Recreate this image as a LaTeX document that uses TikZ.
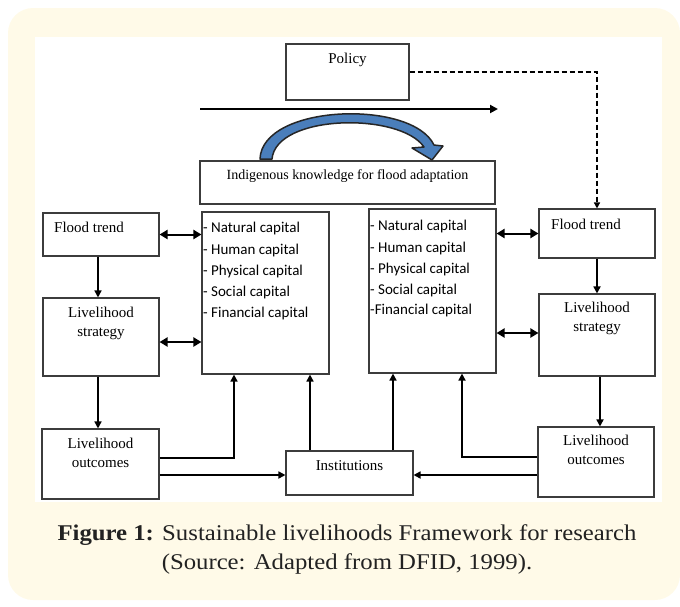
\documentclass[tikz,border=0pt]{standalone}
\usepackage{fontspec}
\setmainfont{Liberation Serif}
\newfontfamily\itemfont{Carlito}
\newfontfamily\capfont[FakeStretch=1.1]{Liberation Serif}
\usetikzlibrary{arrows.meta}

\definecolor{creamback}{RGB}{255,250,232}
\definecolor{arcblue}{RGB}{74,126,187}
\definecolor{boxline}{RGB}{60,60,60}
\definecolor{captext}{RGB}{34,34,34}

\tikzset{
  box/.style = {draw=boxline, line width=1.1pt, rectangle, inner sep=0pt},
  boxtext/.style = {font=\fontsize{15}{19}\selectfont, align=center, inner sep=0pt},
  captl/.style = {font=\itemfont\fontsize{15}{18}\selectfont, anchor=west, inner sep=0pt},
  arr/.style = {line width=1.6pt, -{Triangle[length=7pt,width=7pt]}},
  dbl/.style = {line width=2pt, {Triangle[length=8pt,width=9pt]}-{Triangle[length=8pt,width=9pt]}}
}

\begin{document}
\begin{tikzpicture}[x=1pt, y=-1pt]
\fill[creamback, rounded corners=25pt] (8,8) rectangle (680,600);
\fill[white] (35,37) rectangle (662,502);
\useasboundingbox (0,0) rectangle (680,606);

% boxes
\path (347.5,72) node[box, minimum width=123, minimum height=56] (policy) {};
\path (347.5,182.5) node[box, minimum width=295, minimum height=43] (ik) {};
\path (101,234.5) node[box, minimum width=116, minimum height=43] (lflood) {};
\path (101,337) node[box, minimum width=116, minimum height=78] (lstrat) {};
\path (100.5,464) node[box, minimum width=117, minimum height=70] (loutc) {};
\path (265.5,293) node[box, minimum width=127, minimum height=162] (capL) {};
\path (432.5,291) node[box, minimum width=127, minimum height=164] (capR) {};
\path (597,233.5) node[box, minimum width=116, minimum height=49] (rflood) {};
\path (597,335) node[box, minimum width=116, minimum height=82] (rstrat) {};
\path (596,462) node[box, minimum width=116, minimum height=70] (routc) {};
\path (349.5,473) node[box, minimum width=127, minimum height=44] (inst) {};

% box texts
\node[boxtext] (policyT) at (347.5,60) {Policy};
\node[boxtext, font=\fontsize{14}{17}\selectfont] (ikT) at (347.5,176) {Indigenous knowledge for flood adaptation};
\node[boxtext, anchor=west] (lfloodT) at (54,227) {Flood trend};
\node[boxtext, anchor=north] (lstratT) at (101,307) {Livelihood\\strategy};
\node[boxtext, anchor=north] (loutcT) at (100.5,438) {Livelihood\\outcomes};
\node[boxtext, anchor=west] (rfloodT) at (551,224) {Flood trend};
\node[boxtext, anchor=north] (rstratT) at (597,302) {Livelihood\\strategy};
\node[boxtext, anchor=north] (routcT) at (596,435) {Livelihood\\outcomes};
\node[boxtext] (instT) at (349.5,466) {Institutions};

% capitals
\node[captl] (nL) at (203,228) {- Natural capital};
\node[captl] (hL) at (203,250) {- Human capital};
\node[captl] (pL) at (203,271) {- Physical capital};
\node[captl] (sL) at (203,292) {- Social capital};
\node[captl] (fL) at (203,313) {- Financial capital};
\node[captl] (nR) at (370,226) {- Natural capital};
\node[captl] (hR) at (370,248) {- Human capital};
\node[captl] (pR) at (370,269) {- Physical capital};
\node[captl] (sR) at (370,290) {- Social capital};
\node[captl] (fR) at (370,310) {-Financial capital};

% top arrows
\coordinate (trendS) at (200,109);
\coordinate (trendE) at (498,109);
\draw[line width=2pt, -{Triangle[length=8pt,width=8pt]}] (trendS) -- (trendE);
\draw[dashed, dash pattern=on 5pt off 3pt, line width=1.4pt, -{Triangle[length=6pt,width=6pt]}]
  (policy.east) -| (rflood.north);
\filldraw[fill=arcblue, draw=black!85, line width=1.5pt, line join=round]
  (260,159) .. controls (262,104) and (412,99) .. (434,145)
  -- (443,146) -- (432,160) -- (412,148) -- (424,147)
  .. controls (400,112) and (276,114) .. (272,159) -- cycle;

% left side
\draw[dbl] (lflood.east) -- (lflood.east -| capL.west);
\draw[dbl] ([yshift=-5pt]lstrat.east) -- ([yshift=-5pt]lstrat.east -| capL.west);
\draw[arr] ([xshift=-3pt]lflood.south) -- ([xshift=-3pt]lflood.south |- lstrat.north);
\draw[arr] ([xshift=-3pt]lstrat.south) -- ([xshift=-3pt]lstrat.south |- loutc.north);
\draw[arr] ([yshift=6pt]loutc.east) -| ([xshift=-31.5pt]capL.south);
\draw[arr] ([yshift=-11pt]loutc.east) -- ([yshift=-11pt]loutc.east -| inst.west);

% right side
\draw[dbl] (rflood.west) -- (rflood.west -| capR.east);
\draw[dbl] ([yshift=2pt]rstrat.west) -- ([yshift=2pt]rstrat.west -| capR.east);
\draw[arr] (rflood.south) -- (rflood.south |- rstrat.north);
\draw[arr] ([xshift=3pt]rstrat.south) -- ([xshift=3pt]rstrat.south |- routc.north);
\draw[arr] ([yshift=5pt]routc.west) -| ([xshift=29.5pt]capR.south);
\draw[arr] ([yshift=-13pt]routc.west) -- ([yshift=-13pt]routc.west -| inst.east);

% institutions
\draw[arr] ([xshift=-39.5pt]inst.north) -- ([xshift=-39.5pt]inst.north |- capL.south);
\draw[arr] ([xshift=43.5pt]inst.north) -- ([xshift=43.5pt]inst.north |- capR.south);

% caption
\node[font=\capfont\fontsize{22.5}{26}\selectfont, text=captext] (cap1) at (347,535)
  {\textbf{Figure 1:} Sustainable livelihoods Framework for research};
\node[font=\capfont\fontsize{22.5}{26}\selectfont, text=captext] (cap2) at (347,564)
  {(Source: Adapted from DFID, 1999).};
\end{tikzpicture}
\end{document}
